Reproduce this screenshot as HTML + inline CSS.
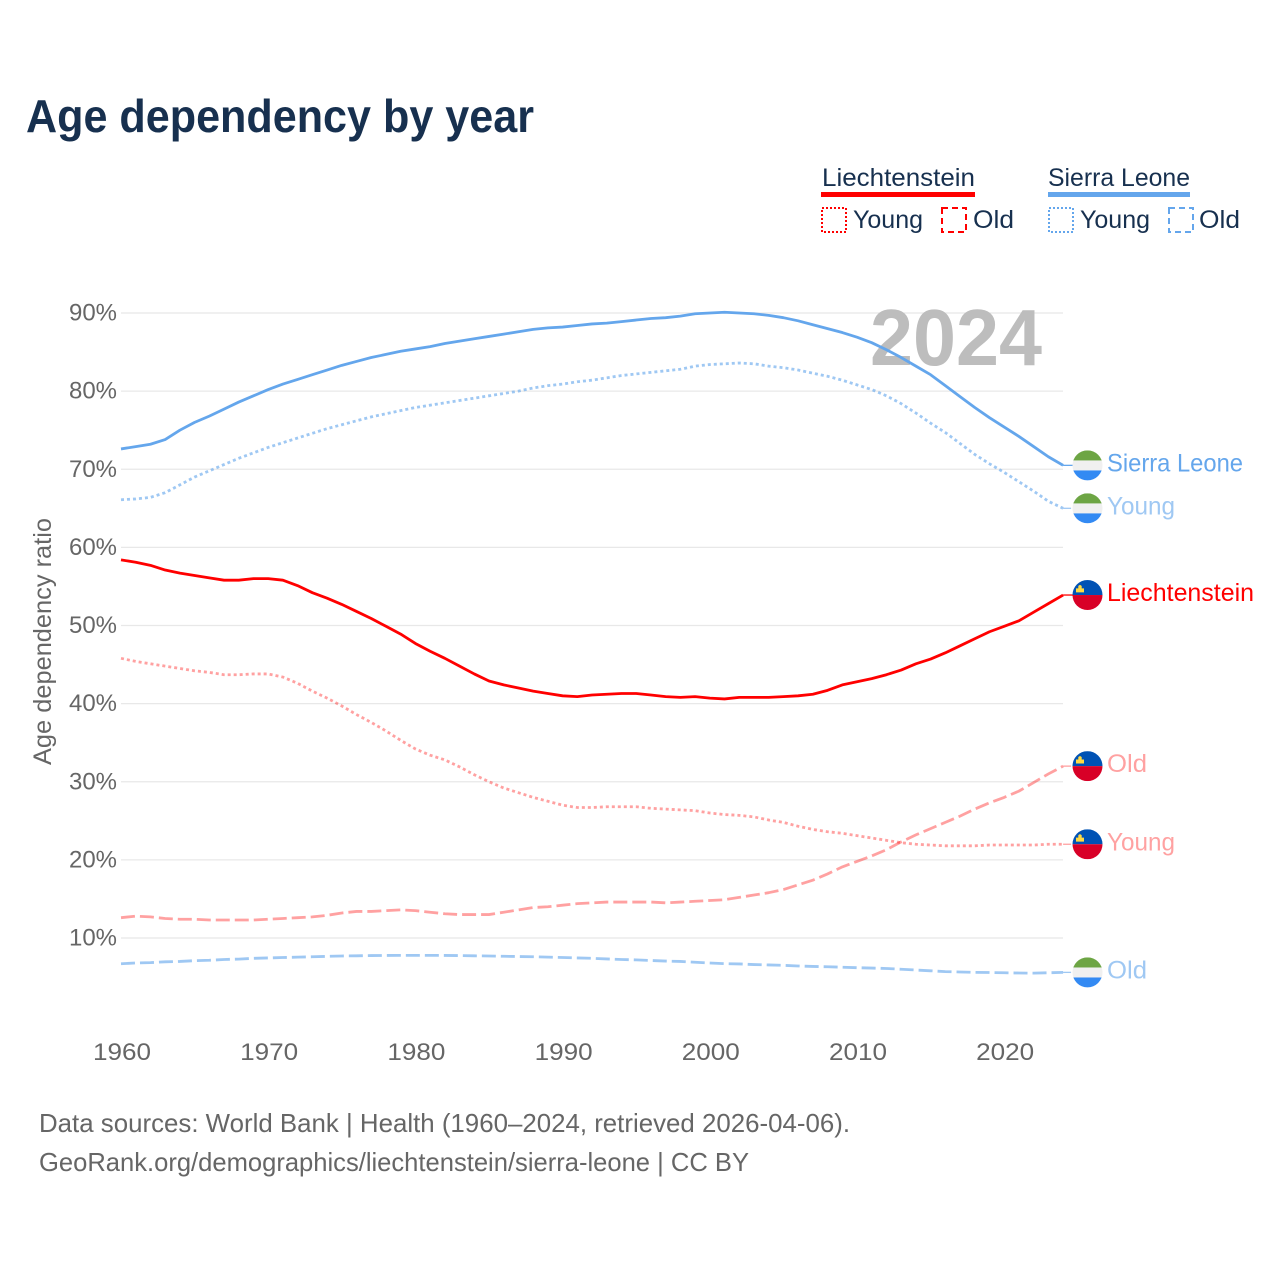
<!DOCTYPE html>
<html lang="en">
<head>
<meta charset="utf-8">
<title>Age dependency by year</title>
<style>
html,body{margin:0;padding:0;background:#fff;}
svg{display:block;font-family:"Liberation Sans",sans-serif;}
</style>
</head>
<body>
<svg id="chart" xmlns="http://www.w3.org/2000/svg" width="1280" height="1280" viewBox="0 0 1280 1280">
  <rect x="0" y="0" width="1280" height="1280" fill="#ffffff"/>
  <text x="26" y="132" font-size="46" font-weight="700" fill="#17304f" textLength="508" lengthAdjust="spacingAndGlyphs">Age dependency by year</text>

  <g font-size="25" fill="#17304f">
    <text x="822" y="186" textLength="153" lengthAdjust="spacingAndGlyphs">Liechtenstein</text>
    <rect x="821" y="192" width="154" height="5" fill="#ff0000"/>
    <rect x="822" y="208" width="24" height="24" fill="none" stroke="#ff0000" stroke-width="2" stroke-dasharray="2 2"/>
    <text x="853" y="228" textLength="70" lengthAdjust="spacingAndGlyphs">Young</text>
    <rect x="942" y="208" width="24" height="24" fill="none" stroke="#ff0000" stroke-width="2" stroke-dasharray="6 4"/>
    <text x="973" y="228" textLength="41" lengthAdjust="spacingAndGlyphs">Old</text>
    <text x="1048" y="186" textLength="142" lengthAdjust="spacingAndGlyphs">Sierra Leone</text>
    <rect x="1048" y="192" width="142" height="5" fill="#64a6ec"/>
    <rect x="1049" y="208" width="24" height="24" fill="none" stroke="#64a6ec" stroke-width="2" stroke-dasharray="2 2"/>
    <text x="1080" y="228" textLength="70" lengthAdjust="spacingAndGlyphs">Young</text>
    <rect x="1169" y="208" width="24" height="24" fill="none" stroke="#64a6ec" stroke-width="2" stroke-dasharray="6 4"/>
    <text x="1199" y="228" textLength="41" lengthAdjust="spacingAndGlyphs">Old</text>
  </g>

  <g id="grid"></g>
  <g id="yticks"></g>
  <g id="xticks"></g>
  <text x="870" y="365" font-size="80" font-weight="700" fill="#bdbdbd" textLength="172" lengthAdjust="spacingAndGlyphs">2024</text>
  <text transform="translate(51,765) rotate(-90)" x="0" y="0" font-size="25" fill="#666666" textLength="247" lengthAdjust="spacingAndGlyphs">Age dependency ratio</text>
  <g id="series"></g>
  <g id="labels"></g>

  <text x="39" y="1132" font-size="26" fill="#666666" textLength="811" lengthAdjust="spacingAndGlyphs">Data sources: World Bank | Health (1960–2024, retrieved 2026-04-06).</text>
  <text x="39" y="1171" font-size="26" fill="#666666" textLength="710" lengthAdjust="spacingAndGlyphs">GeoRank.org/demographics/liechtenstein/sierra-leone | CC BY</text>
</svg>
<script>
const years = [1960,1961,1962,1963,1964,1965,1966,1967,1968,1969,
1970,1971,1972,1973,1974,1975,1976,1977,1978,1979,
1980,1981,1982,1983,1984,1985,1986,1987,1988,1989,
1990,1991,1992,1993,1994,1995,1996,1997,1998,1999,
2000,2001,2002,2003,2004,2005,2006,2007,2008,2009,
2010,2011,2012,2013,2014,2015,2016,2017,2018,2019,
2020,2021,2022,2023,2024];
const xTickValues = [1960,1970,1980,1990,2000,2010,2020];
const yTickValues = [10,20,30,40,50,60,70,80,90];
const sierraTotal = [72.6,72.9,73.2,73.8,75,76,76.8,77.7,78.6,79.4,
80.2,80.9,81.5,82.1,82.7,83.3,83.8,84.3,84.7,85.1,
85.4,85.7,86.1,86.4,86.7,87,87.3,87.6,87.9,88.1,
88.2,88.4,88.6,88.7,88.9,89.1,89.3,89.4,89.6,89.9,
90,90.1,90,89.9,89.7,89.4,89,88.5,88,87.5,
86.9,86.2,85.3,84.3,83.2,82.1,80.7,79.3,77.9,76.6,
75.4,74.2,72.9,71.6,70.5];
const sierraYoung = [66.1,66.2,66.4,67,68,69,69.8,70.6,71.4,72.1,
72.8,73.4,74,74.6,75.2,75.7,76.2,76.7,77.1,77.5,
77.9,78.2,78.5,78.8,79.1,79.4,79.7,80,80.4,80.7,
80.9,81.2,81.4,81.7,82,82.2,82.4,82.6,82.8,83.2,
83.4,83.5,83.6,83.5,83.2,83,82.7,82.3,81.9,81.4,
80.8,80.2,79.4,78.4,77.2,75.9,74.7,73.3,71.9,70.7,
69.6,68.4,67.2,65.9,65];
const sierraOld = [6.7,6.8,6.85,6.95,7,7.1,7.15,7.25,7.3,7.4,
7.45,7.5,7.55,7.6,7.65,7.7,7.72,7.75,7.77,7.78,
7.78,7.78,7.77,7.75,7.72,7.7,7.66,7.63,7.6,7.55,
7.5,7.45,7.4,7.32,7.25,7.2,7.12,7.05,7,6.9,
6.8,6.72,6.68,6.6,6.55,6.5,6.42,6.36,6.32,6.26,
6.2,6.15,6.1,6,5.9,5.8,5.7,5.65,5.6,5.58,
5.55,5.52,5.5,5.55,5.6];
const liechtensteinTotal = [58.4,58.1,57.7,57.1,56.7,56.4,56.1,55.8,55.8,56,
56,55.8,55.1,54.2,53.5,52.7,51.8,50.9,49.9,48.9,
47.7,46.7,45.8,44.8,43.8,42.9,42.4,42,41.6,41.3,
41,40.9,41.1,41.2,41.3,41.3,41.1,40.9,40.8,40.9,
40.7,40.6,40.8,40.8,40.8,40.9,41,41.2,41.7,42.4,
42.8,43.2,43.7,44.3,45.1,45.7,46.5,47.4,48.3,49.2,
49.9,50.6,51.7,52.8,53.9];
const liechtensteinYoung = [45.8,45.4,45.1,44.8,44.5,44.2,44,43.7,43.7,43.8,
43.8,43.4,42.6,41.6,40.7,39.7,38.6,37.6,36.5,35.3,
34.2,33.4,32.8,31.9,30.9,30,29.2,28.6,28,27.5,
27,26.7,26.7,26.8,26.8,26.8,26.6,26.5,26.4,26.3,
26,25.8,25.7,25.5,25.1,24.8,24.3,23.9,23.6,23.4,
23.1,22.8,22.5,22.2,22,21.9,21.8,21.8,21.8,21.9,
21.9,21.9,21.9,22,22];
const liechtensteinOld = [12.6,12.8,12.7,12.5,12.4,12.4,12.3,12.3,12.3,12.3,
12.4,12.5,12.6,12.7,12.9,13.2,13.4,13.4,13.5,13.6,
13.5,13.3,13.1,13,13,13,13.3,13.6,13.9,14,
14.2,14.4,14.5,14.6,14.6,14.6,14.6,14.5,14.6,14.7,
14.8,14.9,15.2,15.5,15.8,16.2,16.8,17.4,18.2,19.1,
19.8,20.5,21.3,22.3,23.2,24,24.8,25.6,26.5,27.3,
28,28.8,29.9,31,32];

const NS = 'http://www.w3.org/2000/svg';
const xScale = function (year) { return 121 + (year - 1960) * 14.72; };
const yScale = function (pct) { return 938 - (pct - 10) * 7.8125; };

function make(tag, attrs, parent, text) {
  const el = document.createElementNS(NS, tag);
  for (const k in attrs) el.setAttribute(k, attrs[k]);
  if (text !== undefined) el.textContent = text;
  parent.appendChild(el);
  return el;
}

const gridGroup = document.getElementById('grid');
const yTickGroup = document.getElementById('yticks');
const xTickGroup = document.getElementById('xticks');
const seriesGroup = document.getElementById('series');
const labelGroup = document.getElementById('labels');

yTickValues.forEach(function (v) {
  const line = make('line', {x1: 121, x2: 1063, y1: yScale(v), y2: yScale(v), stroke: '#e8e8e8', 'stroke-width': 1.3}, gridGroup);
  
  
  const tick = make('text', {x: 117, y: yScale(v) + 7.5, 'text-anchor': 'end', 'font-size': 24, fill: '#666666', textLength: 48, lengthAdjust: 'spacingAndGlyphs'}, yTickGroup, v + '%');
  
  
});

xTickValues.forEach(function (year) {
  const tick = make('text', {x: xScale(year) + 1, y: 1060, 'text-anchor': 'middle', 'font-size': 24, fill: '#666666', textLength: 58, lengthAdjust: 'spacingAndGlyphs'}, xTickGroup, String(year));
  
  
});

function drawSeries(values, key, color, opacity, dash, label, labelWidth, flag) {
  const d = values.map(function (v, i) {
    return (i ? 'L' : 'M') + xScale(years[i]).toFixed(2) + ' ' + yScale(v).toFixed(2);
  }).join(' ');
  const lineAttrs = {d: d, fill: 'none', stroke: color, 'stroke-opacity': opacity, 'stroke-width': 2.8, 'stroke-linejoin': 'round'};
  if (dash) lineAttrs['stroke-dasharray'] = dash;
  const path = make('path', lineAttrs, seriesGroup);
  
  

  const last = values[values.length - 1];
  const endY = yScale(last);
  const endX = xScale(years[years.length - 1]);

  const leader = make('line', {x1: endX, x2: endX + (dash ? 8 : 11), y1: endY, y2: endY, stroke: color, 'stroke-opacity': opacity, 'stroke-width': 1.3}, labelGroup);
  
  

  const flagGroup = make('g', {transform: 'translate(1087.5,' + endY.toFixed(2) + ')'}, labelGroup);
  
  
  const clip = make('clipPath', {id: 'clip-' + key}, flagGroup);
  make('circle', {cx: 0, cy: 0, r: 15}, clip);
  const inner = make('g', {'clip-path': 'url(#clip-' + key + ')'}, flagGroup);
  if (flag === 'sl') {
    make('rect', {x: -15, y: -15, width: 30, height: 10.3, fill: '#6da544'}, inner);
    make('rect', {x: -15, y: -4.9, width: 30, height: 10, fill: '#f0f0f0'}, inner);
    make('rect', {x: -15, y: 5.1, width: 30, height: 10, fill: '#338af3'}, inner);
  } else {
    make('rect', {x: -15, y: -15, width: 30, height: 15, fill: '#0052b4'}, inner);
    make('rect', {x: -15, y: 0, width: 30, height: 15, fill: '#d80027'}, inner);
    make('path', {d: 'M-11.5 -2.6 V-6.6 H-9.2 V-9 Q-7.5 -11 -5.8 -9 V-6.6 H-3.5 V-2.6 Z', fill: '#ffda44'}, inner);
  }

  const text = make('text', {x: 1107, y: endY + 6, 'font-size': 25, fill: color, 'fill-opacity': opacity, textLength: labelWidth, lengthAdjust: 'spacingAndGlyphs'}, labelGroup, label);
  
  
}

drawSeries(sierraOld, 'sierra-leone-old', '#64a6ec', 0.62, '14 5', 'Old', 40, 'sl');
drawSeries(liechtensteinOld, 'liechtenstein-old', '#ff0000', 0.37, '14 5', 'Old', 40, 'li');
drawSeries(liechtensteinYoung, 'liechtenstein-young', '#ff0000', 0.37, '3 3', 'Young', 68, 'li');
drawSeries(sierraYoung, 'sierra-leone-young', '#64a6ec', 0.62, '3 3', 'Young', 68, 'sl');
drawSeries(liechtensteinTotal, 'liechtenstein-total', '#ff0000', 1, '', 'Liechtenstein', 147, 'li');
drawSeries(sierraTotal, 'sierra-leone-total', '#64a6ec', 1, '', 'Sierra Leone', 136, 'sl');
</script>
</body>
</html>
